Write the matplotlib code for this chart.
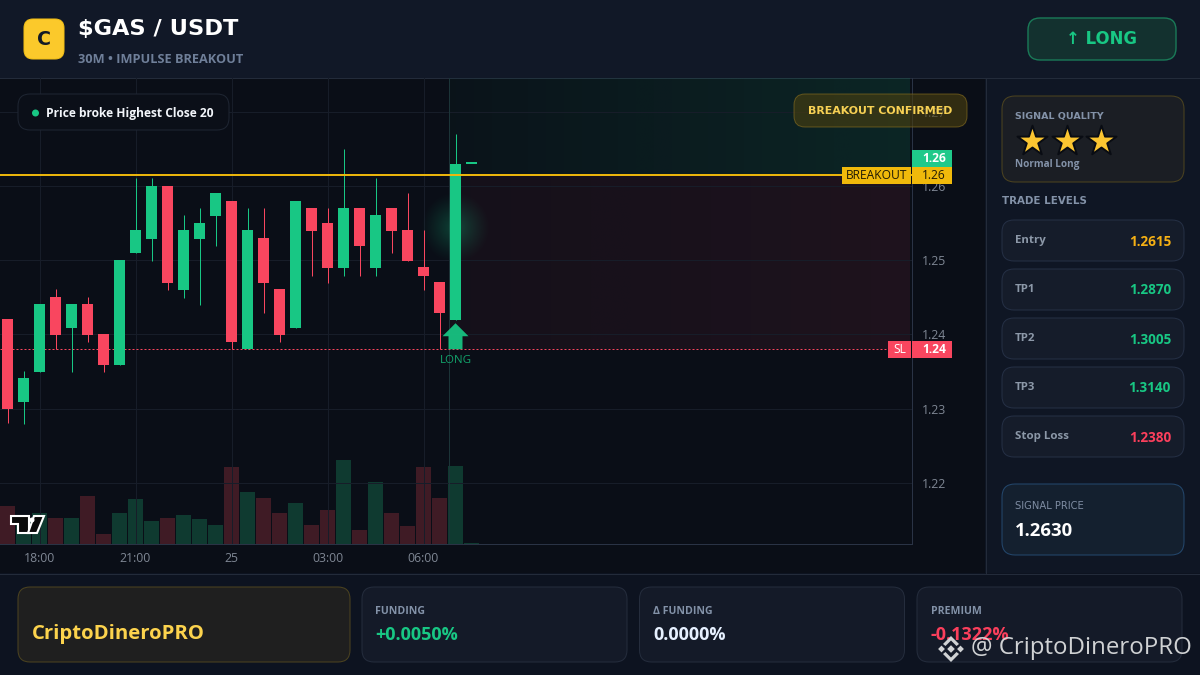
import numpy as np
import matplotlib
matplotlib.use("Agg")
import matplotlib.pyplot as plt
from matplotlib.patches import FancyBboxPatch, Polygon, Rectangle, Circle

# -------------- data -------------------------------------------------
OPEN = [1.2421, 1.2309, 1.2349, 1.2450, 1.2409, 1.2441, 1.2400, 1.2359, 1.2510, 1.2529,
        1.2600, 1.2460, 1.2529, 1.2560, 1.2580, 1.2380, 1.2530, 1.2461, 1.2409, 1.2570,
        1.2550, 1.2490, 1.2570, 1.2490, 1.2570, 1.2541, 1.2491, 1.2471, 1.2419, 1.2630]
CLOSE = [1.2300, 1.2341, 1.2441, 1.2399, 1.2441, 1.2399, 1.2359, 1.2500, 1.2541, 1.2600,
         1.2469, 1.2541, 1.2550, 1.2591, 1.2390, 1.2541, 1.2469, 1.2399, 1.2580, 1.2539,
         1.2490, 1.2570, 1.2519, 1.2561, 1.2539, 1.2499, 1.2479, 1.2429, 1.2630, 1.2630]
HIGH = [1.2421, 1.2351, 1.2441, 1.2461, 1.2441, 1.2450, 1.2400, 1.2500, 1.2611, 1.2611,
        1.2600, 1.2561, 1.2570, 1.2591, 1.2580, 1.2570, 1.2570, 1.2461, 1.2580, 1.2570,
        1.2570, 1.2650, 1.2570, 1.2611, 1.2570, 1.2591, 1.2541, 1.2471, 1.2670, 1.2630]
LOW = [1.2281, 1.2279, 1.2349, 1.2380, 1.2349, 1.2390, 1.2349, 1.2359, 1.2510, 1.2499,
       1.2460, 1.2449, 1.2440, 1.2519, 1.2380, 1.2380, 1.2429, 1.2390, 1.2409, 1.2479,
       1.2469, 1.2479, 1.2479, 1.2479, 1.2510, 1.2499, 1.2460, 1.2380, 1.2419, 1.2630]
VOLUME = [38, 26, 31, 26, 26, 48, 10, 31, 45, 23, 26, 29, 25, 19, 77,
          52, 46, 31, 41, 19, 34, 84, 14, 62, 31, 18, 77, 46, 78, 1]

TIME_POS = [2, 8, 14, 20, 26]
TIME_LABELS = ["18:00", "21:00", "25", "03:00", "06:00"]
PRICE_TICKS = [1.22, 1.23, 1.24, 1.25, 1.26, 1.27]

BREAKOUT = 1.2615
STOP = 1.2380
SIGNAL_IDX = 28

LEVEL_NAMES = ["Entry", "TP1", "TP2", "TP3", "Stop Loss"]
LEVEL_VALUES = ["1.2615", "1.2870", "1.3005", "1.3140", "1.2380"]
LEVEL_COLORS = ["#f5b014", "#18c784", "#18c784", "#18c784", "#fb3f5c"]

STAT_NAMES = ["FUNDING", "Δ FUNDING", "PREMIUM"]
STAT_VALUES = ["+0.0050%", "0.0000%", "-0.1322%"]
STAT_COLORS = ["#18c784", "#e6f0ff", "#fb3f5c"]

GREEN = "#18c784"
RED = "#f9465f"
GOLD = "#f0b90b"
CHART_BG = "#0a0e17"
LINE = "#232b3a"
GRID = "#171d29"
MUTED = "#8392a8"
ONE_PX = 0.72

plt.rcParams["font.family"] = ["Open Sans", "DejaVu Sans"]

W, H = 1200, 675
fig = plt.figure(figsize=(W / 100, H / 100), dpi=100, facecolor=CHART_BG)


def px_axes(zorder):
    a = fig.add_axes([0, 0, 1, 1], zorder=zorder)
    a.set_xlim(0, W)
    a.set_ylim(H, 0)
    a.axis("off")
    a.patch.set_alpha(0)
    return a


def card(a, x0, y0, x1, y1, face, edge, r=12, alpha=1.0, lw=ONE_PX):
    a.add_patch(FancyBboxPatch((x0, y0), x1 - x0, y1 - y0,
                               boxstyle="round,pad=0,rounding_size=%s" % r,
                               facecolor=face, edgecolor=edge, lw=lw, alpha=alpha))


def label(a, x, y, s, px, color, weight="normal", ha="left", family=None):
    kw = {}
    if family:
        kw["family"] = family
    # Open Sans sits about a pixel high with va=center
    return a.text(x, y + 1, s, fontsize=px * 0.72, color=color, fontweight=weight,
                  ha=ha, va="center", **kw)


bg = px_axes(0)
top = px_axes(5)

# panels behind the chart
bg.add_patch(Rectangle((0, 0), W, 78, facecolor="#111827", edgecolor="none"))
bg.add_patch(Rectangle((0, 78), 985, 495, facecolor=CHART_BG, edgecolor="none"))
bg.add_patch(Rectangle((985, 78), 215, 495, facecolor="#0f1624", edgecolor="none"))
bg.add_patch(Rectangle((0, 573), W, 102, facecolor="#0d1320", edgecolor="none"))
bg.plot([0, W], [77.5, 77.5], color=LINE, lw=ONE_PX)
bg.plot([0, W], [573.5, 573.5], color=LINE, lw=ONE_PX)
bg.plot([985.5, 985.5], [78, 573], color=LINE, lw=ONE_PX)

# chart: 16 px per candle, 7420 px per 1.0 of price
chart_rect = [0, 1 - 544 / H, 912 / W, (544 - 78) / H]
xlim = (-7.5 / 16, (912 - 7.5) / 16)
ylim = (1.26 - (544 - 186) / 7420, 1.26 + (186 - 78) / 7420)

vol_ax = fig.add_axes(chart_rect, zorder=1, facecolor="none")
vol_ax.set_xlim(*xlim)
vol_ax.set_ylim(0, 466)
vol_ax.axis("off")

ax = fig.add_axes(chart_rect, zorder=2, facecolor="none")
ax.set_xlim(*xlim)
ax.set_ylim(*ylim)

idx = np.arange(len(OPEN))
up = np.array(CLOSE) >= np.array(OPEN)

vol_ax.bar(idx, VOLUME, width=0.94, color=["#0f3a30" if u else "#3f1b25" for u in up], zorder=2)

# breakout zones
zone_x0 = 27.6
zone_x1 = 56.4
ramp = np.linspace(0, 1, 200)[None, :]
green_zone = np.zeros((1, 200, 4))
green_zone[..., :3] = matplotlib.colors.to_rgb(GREEN)
green_zone[..., 3] = 0.03 + 0.1 * ramp
ax.imshow(green_zone, extent=(zone_x0, zone_x1, BREAKOUT, ylim[1]), aspect="auto",
          interpolation="bilinear", zorder=0.5)
red_zone = np.zeros((1, 200, 4))
red_zone[..., :3] = matplotlib.colors.to_rgb(RED)
red_zone[..., 3] = 0.045 + 0.045 * ramp
ax.imshow(red_zone, extent=(zone_x0, zone_x1, STOP, BREAKOUT), aspect="auto",
          interpolation="bilinear", zorder=0.5)

ax.set_yticks(PRICE_TICKS)
ax.set_yticklabels(["%.2f" % p for p in PRICE_TICKS])
ax.yaxis.tick_right()
ax.set_xticks(TIME_POS)
ax.set_xticklabels(TIME_LABELS)
ax.tick_params(axis="y", length=0, pad=7, labelsize=8.8, labelcolor="#7f8794")
ax.tick_params(axis="x", length=0, pad=6, labelsize=8.8, labelcolor="#7f8794")
ax.grid(True, color=GRID, lw=ONE_PX, zorder=0.6)
ax.set_axisbelow(True)
for side in ["top", "left"]:
    ax.spines[side].set_visible(False)
for side in ["right", "bottom"]:
    ax.spines[side].set_color("#2a3345")
    ax.spines[side].set_linewidth(ONE_PX)

ax.axvline(zone_x0, color="#1c3438", lw=ONE_PX, zorder=0.8)

# glow behind signal candle
gx, gy = np.meshgrid(np.linspace(-1, 1, 90), np.linspace(-1, 1, 90))
glow = np.zeros((90, 90, 4))
glow[..., :3] = matplotlib.colors.to_rgb(GREEN)
glow[..., 3] = 0.3 * np.clip(1 - np.hypot(gx, gy), 0, 1) ** 1.2
glow_y = 1.26 + (186 - 228) / 7420
ax.imshow(glow, extent=(SIGNAL_IDX - 2.2, SIGNAL_IDX + 2.2, glow_y - 36 / 7420, glow_y + 36 / 7420),
          aspect="auto", interpolation="bilinear", zorder=0.9)
ax.set_xlim(*xlim)
ax.set_ylim(*ylim)

# levels
ax.hlines(BREAKOUT, xlim[0], xlim[1], color=GOLD, lw=1.4, zorder=4)
ax.hlines(STOP, xlim[0], xlim[1], color=RED, lw=ONE_PX, linestyles=(0, (2, 2)), zorder=1.5)

# candles
colors = [GREEN if u else RED for u in up]
ax.vlines(idx, LOW, HIGH, color=colors, lw=ONE_PX, zorder=2)
bottoms = np.minimum(OPEN, CLOSE)
heights = np.maximum(np.abs(np.array(CLOSE) - np.array(OPEN)), 0.00018)
ax.bar(idx, heights, bottom=bottoms, width=0.69, color=colors, zorder=3)


def x_px(i):
    return 7.5 + 16 * i


def y_px(p):
    return 186 + (1.26 - p) * 7420


# signal arrow
sx = x_px(SIGNAL_IDX)
sy = y_px(STOP)
top.add_patch(Polygon([(sx, sy - 26), (sx + 13, sy - 13), (sx + 7, sy - 13), (sx + 7, sy),
                       (sx - 7, sy), (sx - 7, sy - 13), (sx - 13, sy - 13)],
                      closed=True, facecolor=GREEN, edgecolor="none", alpha=0.92))
label(top, sx, sy + 10, "LONG", 11.5, "#12a56c", ha="center")

# price tags
ty = y_px(BREAKOUT)
top.add_patch(Rectangle((912, 150), 40, 17, facecolor="#1fc98a", edgecolor="none"))
label(top, 934, 157.5, "1.26", 12, "white", "bold", ha="center")
top.add_patch(Rectangle((842, ty - 8), 69, 17, facecolor=GOLD, edgecolor="none"))
top.add_patch(Rectangle((912, ty - 8), 40, 17, facecolor=GOLD, edgecolor="none"))
label(top, 876.5, ty - 0.5, "BREAKOUT", 12, "#201a05", ha="center")
label(top, 934, ty - 0.5, "1.26", 12, "#201a05", ha="center")
ty = y_px(STOP)
top.add_patch(Rectangle((888, ty - 8), 23, 17, facecolor=RED, edgecolor="none"))
top.add_patch(Rectangle((912, ty - 8), 40, 17, facecolor=RED, edgecolor="none"))
label(top, 899.5, ty - 0.5, "SL", 12, "white", ha="center")
label(top, 934, ty - 0.5, "1.24", 12, "white", "bold", ha="center")

# chart badges
card(top, 18, 94, 229, 130, "#0b0f18", "#1f2633", r=12)
top.add_patch(Circle((35.5, 113), 3.5, facecolor=GREEN, edgecolor="none"))
label(top, 46, 112.5, "Price broke Highest Close 20", 12, "#f2f5fa", "bold")

card(top, 794, 94, 967, 127, "#4a3f10", "#8a7020", r=11, alpha=0.62)
label(top, 880.5, 110, "BREAKOUT CONFIRMED", 11, "#f7d154", "bold", ha="center", family="DejaVu Sans")

# TradingView mark
top.add_patch(Polygon([(11, 516), (29, 516), (29, 533), (18, 533), (18, 524), (11, 524)],
                      closed=True, facecolor="#0a0a0a", edgecolor="white", lw=1.5))
top.add_patch(Polygon([(34, 516), (44, 516), (37, 533), (28, 533)],
                      closed=True, facecolor="#0a0a0a", edgecolor="white", lw=1.5))
top.add_patch(Circle((32, 520), 2.5, facecolor="white", edgecolor="none"))

# header
card(top, 24, 19, 64, 59, "#fbc92b", "#f5c116", r=9)
label(top, 44, 38.5, "C", 19, "#141a26", "bold", ha="center", family="DejaVu Sans")
label(top, 78, 27.5, "$GAS / USDT", 22.5, "white", "bold", family="DejaVu Sans")
label(top, 78, 58.5, "30M • IMPULSE BREAKOUT", 12.8, "#6f7f99", "bold")
card(top, 1028, 18, 1176, 60, "#13312f", "#1a7a58", r=12, lw=1.0)
label(top, 1102, 38.5, "↑ LONG", 16.5, GREEN, "bold", ha="center", family="DejaVu Sans")

# side panel
card(top, 1002, 96, 1184, 182, "#1b1e24", "#4d4420", r=13)
label(top, 1015, 115.5, "SIGNAL QUALITY", 9.5, MUTED, "bold", family="DejaVu Sans")
top.scatter([1032, 1066.5, 1101], [141, 141, 141], marker="*", s=520, color="#fbc531",
            edgecolor="#090c13", linewidth=1.4, zorder=6)
label(top, 1015, 163.5, "Normal Long", 10, MUTED, "bold")
label(top, 1002, 199.5, "TRADE LEVELS", 10.3, MUTED, "bold", family="DejaVu Sans")

for n, (name, val, col) in enumerate(zip(LEVEL_NAMES, LEVEL_VALUES, LEVEL_COLORS)):
    y0 = 220 + 49 * n
    card(top, 1002, y0, 1184, y0 + 41, "#151c2a", "#253045", r=12)
    label(top, 1015, y0 + 19.5, name, 11.5, "#8c98a8", "bold")
    label(top, 1171, y0 + 20.5, val, 13.5, col, "bold", ha="right")

card(top, 1002, 484, 1184, 555, "#14202f", "#24486e", r=13)
label(top, 1015, 505, "SIGNAL PRICE", 10, "#7f8da3", family="DejaVu Sans")
label(top, 1015, 529.5, "1.2630", 18.5, "white", "bold")

# footer
card(top, 18, 587, 350, 662, "#1f1f1f", "#4d4420", r=12)
label(top, 32, 632.5, "CriptoDineroPRO", 20.3, "#fcd34d", "bold")
for n, (name, val, col) in enumerate(zip(STAT_NAMES, STAT_VALUES, STAT_COLORS)):
    x0 = 362 + 277.5 * n
    card(top, x0, 587, x0 + 265, 662, "#141a28", "#252d3d", r=12)
    label(top, x0 + 13.5, 610.5, name, 10.5, MUTED, "bold")
    label(top, x0 + 13.5, 633.5, val, 18, col, "bold")

# watermark
wm = "#d0d2d4"
cx, cy = 951, 649
for dx, r in [(0, 3.8), (-9.5, 3.4), (9.5, 3.4)]:
    top.add_patch(Polygon([(cx + dx, cy - r), (cx + dx + r, cy), (cx + dx, cy + r), (cx + dx - r, cy)],
                          closed=True, facecolor=wm, edgecolor="none", zorder=7))
for sign in [-1, 1]:
    top.add_patch(Polygon([(cx, cy + sign * 13), (cx + 8, cy + sign * 5), (cx + 5.5, cy + sign * 3),
                           (cx, cy + sign * 8.5), (cx - 5.5, cy + sign * 3), (cx - 8, cy + sign * 5)],
                          closed=True, facecolor=wm, edgecolor="none", zorder=7))
top.text(971, 648.5, "@ CriptoDineroPRO", fontsize=24 * 0.72, color=wm, ha="left", va="center", zorder=7)

fig.savefig("out.png", dpi=100, facecolor=fig.get_facecolor())
